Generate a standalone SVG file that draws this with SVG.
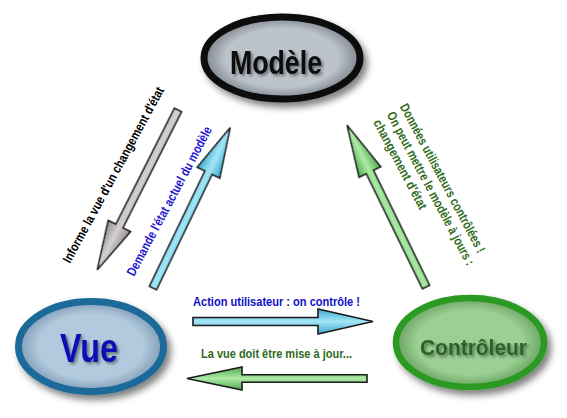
<svg xmlns="http://www.w3.org/2000/svg" width="567" height="418" viewBox="0 0 567 418">
<defs>
  <filter id="shadow" x="-20%" y="-20%" width="150%" height="160%">
    <feGaussianBlur in="SourceAlpha" stdDeviation="3.5"/>
    <feOffset dx="4" dy="5" result="b"/>
    <feComponentTransfer><feFuncA type="linear" slope="0.5"/></feComponentTransfer>
    <feMerge><feMergeNode/><feMergeNode in="SourceGraphic"/></feMerge>
  </filter>
  <filter id="tshadow" x="-20%" y="-30%" width="140%" height="170%">
    <feGaussianBlur in="SourceAlpha" stdDeviation="1.5"/>
    <feOffset dx="1.5" dy="2"/>
    <feComponentTransfer><feFuncA type="linear" slope="0.45"/></feComponentTransfer>
    <feMerge><feMergeNode/><feMergeNode in="SourceGraphic"/></feMerge>
  </filter>
  <filter id="soft" x="-10%" y="-30%" width="120%" height="160%">
    <feGaussianBlur stdDeviation="0.7"/>
  </filter>
  <radialGradient id="gModele" cx="0.5" cy="0.5" r="0.5">
    <stop offset="0.72" stop-color="#bcc3ca"/>
    <stop offset="1" stop-color="#7e858c"/>
  </radialGradient>
  <radialGradient id="gVue" cx="0.5" cy="0.5" r="0.5">
    <stop offset="0.72" stop-color="#b2cadd"/>
    <stop offset="1" stop-color="#7f9cb6"/>
  </radialGradient>
  <radialGradient id="gCtrl" cx="0.5" cy="0.5" r="0.5">
    <stop offset="0.72" stop-color="#9bcf93"/>
    <stop offset="1" stop-color="#6aa462"/>
  </radialGradient>
  <linearGradient id="aGrey" x1="0" y1="0" x2="0" y2="1">
    <stop offset="0" stop-color="#8e8a8a"/>
    <stop offset="0.5" stop-color="#d6d2d2"/>
    <stop offset="1" stop-color="#8e8a8a"/>
  </linearGradient>
  <linearGradient id="aCyan" x1="0" y1="0" x2="0" y2="1">
    <stop offset="0" stop-color="#3aa8d0"/>
    <stop offset="0.5" stop-color="#a4e6f6"/>
    <stop offset="1" stop-color="#3aa8d0"/>
  </linearGradient>
  <linearGradient id="aGreen" x1="0" y1="0" x2="0" y2="1">
    <stop offset="0" stop-color="#4eaa4e"/>
    <stop offset="0.5" stop-color="#aeeaa6"/>
    <stop offset="1" stop-color="#4eaa4e"/>
  </linearGradient>
</defs>
<style>
  .lbl { font-family: "Liberation Sans Narrow", "Liberation Sans", Arial, sans-serif; font-weight: bold; font-size: 13px; }
  .node { font-family: "Liberation Sans Narrow", "Liberation Sans", Arial, sans-serif; font-weight: bold; }
  .arrow { stroke: #1a1a1a; stroke-width: 1.6; stroke-linejoin: miter; filter: url(#soft); }
</style>
<rect width="567" height="418" fill="#ffffff"/>

<g id="connectors">
  <path class="arrow" fill="url(#aGrey)" transform="translate(178,110) rotate(116.8)" d="M0,-4 L130,-4 L130,-12.5 L179,0 L130,12.5 L130,4 L0,4 Z"/>
  <path class="arrow" fill="url(#aCyan)" transform="translate(153,288) rotate(-64.3)" d="M0,-4 L128,-4 L128,-12.5 L178,0 L128,12.5 L128,4 L0,4 Z"/>
  <path class="arrow" fill="url(#aGreen)" transform="translate(426,287) rotate(-116)" d="M0,-4 L128,-4 L128,-12 L180,0 L128,12 L128,4 L0,4 Z"/>
  <path class="arrow" fill="url(#aCyan)" transform="translate(193,321.5)" d="M0,-4 L125,-4 L125,-12.5 L180,0 L125,12.5 L125,4 L0,4 Z"/>
  <path class="arrow" fill="url(#aGreen)" transform="translate(367,378.5) rotate(180)" d="M0,-3.8 L125,-3.8 L125,-11.5 L180,0 L125,11.5 L125,3.8 L0,3.8 Z"/>

  <text class="lbl" fill="#000000" transform="translate(70,264) rotate(-61.5)" textLength="198" lengthAdjust="spacingAndGlyphs">Informe la vue d'un changement d'état</text>
  <text class="lbl" fill="#2418d0" transform="translate(134,277) rotate(-62)" textLength="167" lengthAdjust="spacingAndGlyphs">Demande l'état actuel du modèle</text>
  <g transform="translate(408,102) rotate(62)" fill="#2f6b20">
    <text class="lbl" x="0" y="9.5" textLength="167" lengthAdjust="spacingAndGlyphs">Données utilisateurs contrôlées !</text>
    <text class="lbl" x="1" y="25" textLength="172" lengthAdjust="spacingAndGlyphs">On peut mettre le modèle à jours :</text>
    <text class="lbl" x="1.5" y="40.5" textLength="100" lengthAdjust="spacingAndGlyphs">changement d'état</text>
  </g>
  <text class="lbl" fill="#1010c8" x="193" y="306" textLength="167" lengthAdjust="spacingAndGlyphs">Action utilisateur : on contrôle !</text>
  <text class="lbl" fill="#2f6b20" x="201" y="358" textLength="151" lengthAdjust="spacingAndGlyphs">La vue doit être mise à jour...</text>
</g>

<g id="modele" filter="url(#shadow)">
  <ellipse cx="282" cy="58" rx="78" ry="41" fill="url(#gModele)" stroke="#0a0a0a" stroke-width="7"/>
  <text class="node" x="230" y="74" font-size="33" fill="#0a0a0a" textLength="92" lengthAdjust="spacingAndGlyphs" filter="url(#tshadow)">Modèle</text>
</g>

<g id="vue" filter="url(#shadow)">
  <ellipse cx="91" cy="346.5" rx="72.5" ry="45" fill="url(#gVue)" stroke="#1b6a9a" stroke-width="7"/>
  <text class="node" x="60" y="362" font-size="40" fill="#0c0cb4" textLength="58" lengthAdjust="spacingAndGlyphs" filter="url(#tshadow)">Vue</text>
</g>

<g id="controleur" filter="url(#shadow)">
  <ellipse cx="470" cy="342.5" rx="74" ry="44.5" fill="url(#gCtrl)" stroke="#2b9a22" stroke-width="6.5"/>
  <text class="node" x="420" y="355" font-size="22" fill="#2a6428" textLength="107" lengthAdjust="spacingAndGlyphs" filter="url(#tshadow)">Contrôleur</text>
</g>
</svg>
